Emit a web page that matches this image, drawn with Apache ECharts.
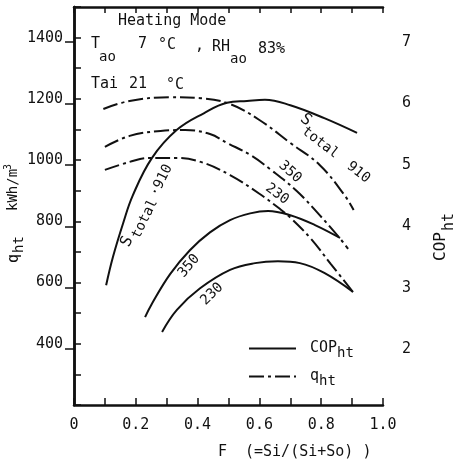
<!DOCTYPE html>
<html>
<head>
<meta charset="utf-8">
<script src="https://cdn.jsdelivr.net/npm/echarts@6/dist/echarts.min.js"></script>
<style>
  html, body { margin: 0; padding: 0; background: #fff; }
  #chart { width: 459px; height: 463px; }
</style>
</head>
<body>
<div id="chart"></div>
<script>
const FONT = '"DejaVu Sans Mono", monospace'
const INK = '#111'

// COP_ht curves (right axis)
const fCop910 = [0.104, 0.126, 0.159, 0.19, 0.252, 0.333, 0.42, 0.495, 0.56, 0.618, 0.70, 0.81, 0.916]
const cop910 = [3.04, 3.50, 4.05, 4.50, 5.11, 5.57, 5.84, 6.01, 6.04, 6.06, 5.97, 5.76, 5.52]
const fCop350 = [0.23, 0.25, 0.311, 0.375, 0.44, 0.505, 0.57, 0.628, 0.70, 0.78, 0.861]
const cop350 = [2.52, 2.72, 3.22, 3.61, 3.90, 4.10, 4.21, 4.25, 4.18, 4.02, 3.81]
const fCop230 = [0.285, 0.333, 0.408, 0.505, 0.586, 0.66, 0.731, 0.81, 0.903]
const cop230 = [2.28, 2.64, 2.99, 3.29, 3.40, 3.43, 3.40, 3.24, 2.93]

// q_ht curves (left axis)
const fQ910 = [0.095, 0.18, 0.31, 0.41, 0.505, 0.60, 0.70, 0.795, 0.875, 0.905]
const q910 = [1167, 1193, 1205, 1202, 1183, 1131, 1056, 984, 886, 837]
const fQ350 = [0.10, 0.18, 0.28, 0.36, 0.44, 0.495, 0.57, 0.635, 0.72, 0.795, 0.86, 0.887]
const q350 = [1043, 1079, 1095, 1098, 1085, 1056, 1017, 970, 900, 820, 745, 710]
const fQ230 = [0.10, 0.18, 0.245, 0.33, 0.41, 0.505, 0.60, 0.667, 0.70, 0.765, 0.83, 0.903]
const q230 = [968, 994, 1007, 1007, 994, 951, 890, 840, 812, 745, 662, 569]

const qLabels = [400, 600, 800, 1000, 1200, 1400]
const copTicks = [2, 3, 4, 5, 6, 7]

const zip = (xs, ys) => xs.map((x, i) => [x, ys[i]])

const chart = echarts.init(document.getElementById('chart'))

const solid = (name, xs, ys) => ({
  name, type: 'line', xAxisIndex: 0, yAxisIndex: 1,
  data: zip(xs, ys), smooth: 0.4, symbol: 'none', silent: true,
  itemStyle: { color: INK },
  lineStyle: { color: INK, width: 2 }
})
const dashDot = (name, xs, ys) => ({
  name, type: 'line', xAxisIndex: 0, yAxisIndex: 0,
  data: zip(xs, ys), smooth: 0.4, symbol: 'none', silent: true,
  itemStyle: { color: INK },
  lineStyle: { color: INK, width: 2, type: [15, 4, 3, 4] }
})

const txt = (text, x, y, size, extra) => ({
  type: 'text', x, y, silent: true,
  style: Object.assign({ text, fill: INK, fontFamily: FONT, fontSize: size, align: 'left', verticalAlign: 'middle' }, extra || {})
})
const rotGroup = (x, y, deg, children) => ({
  type: 'group', x, y, rotation: deg * Math.PI / 180, silent: true, children
})

const axisLine = { show: true, lineStyle: { color: INK, width: 2.5 } }

const option = {
  backgroundColor: '#fff',
  animation: false,
  grid: { left: 74, right: 76, top: 7, bottom: 58 },
  xAxis: [
    {
      type: 'value', position: 'bottom', min: 0, max: 1, interval: 0.1,
      axisLine, splitLine: { show: false },
      axisTick: { inside: true, length: 7, lineStyle: { color: INK, width: 1.5 } },
      axisLabel: {
        color: INK, fontFamily: FONT, fontSize: 15, margin: 13,
        formatter: v => {
          const k = Math.round(v * 10)
          if (k % 2) return ''
          return k === 0 ? '0' : v.toFixed(1)
        }
      }
    },
    {
      type: 'value', position: 'top', min: 0, max: 1, interval: 0.1,
      axisLine, splitLine: { show: false },
      axisTick: { inside: true, length: 6, lineStyle: { color: INK, width: 1.5 } },
      axisLabel: { show: false }
    }
  ],
  yAxis: [
    {
      type: 'value', position: 'left', min: 200, max: 1500, interval: 100,
      axisLine, splitLine: { show: false },
      axisTick: { inside: true, length: 7, lineStyle: { color: INK, width: 1.5 } },
      axisLabel: {
        color: INK, fontFamily: FONT, fontSize: 15, margin: 11,
        formatter: v => qLabels.includes(v) ? String(v) : ''
      }
    },
    {
      type: 'value', position: 'right', min: 1.09, max: 7.57,
      axisLine, splitLine: { show: false },
      axisTick: { inside: true, length: 9, customValues: copTicks, lineStyle: { color: INK, width: 1.5 } },
      axisLabel: { color: INK, fontFamily: FONT, fontSize: 15, margin: 19, customValues: copTicks }
    }
  ],
  legend: {
    orient: 'vertical', left: 243, top: 332,
    itemWidth: 47, itemHeight: 12, itemGap: 5,
    selectedMode: false,
    itemStyle: { opacity: 0 },
    data: ['COP', 'q'],
    formatter: n => n === 'COP' ? '{p|}{a|COP}{b|ht}' : '{p|}{a|q}{b|ht}',
    textStyle: {
      color: INK, fontFamily: FONT,
      rich: {
        p: { width: 9 },
        a: { fontSize: 15, fontFamily: FONT, color: INK, lineHeight: 18 },
        b: { fontSize: 14, fontFamily: FONT, color: INK, lineHeight: 18, padding: [9, 0, 0, 0] }
      }
    }
  },
  series: [
    solid('COP', fCop910, cop910),
    solid('COP', fCop350, cop350),
    solid('COP', fCop230, cop230),
    dashDot('q', fQ910, q910),
    dashDot('q', fQ350, q350),
    dashDot('q', fQ230, q230)
  ],
  graphic: [
    txt('Heating Mode', 118, 21, 15),
    txt('T', 91, 44, 15),
    txt('ao', 99, 57, 14),
    txt('7', 138, 44, 15),
    txt('°C', 158, 45, 15),
    txt(',', 195, 46, 15),
    txt('RH', 212, 47, 15),
    txt('ao', 230, 59, 14),
    txt('83%', 258, 49, 15),
    txt('Tai', 91, 84, 15),
    txt('21', 129, 84, 15),
    txt('°C', 166, 85, 15),
    // axis titles
    rotGroup(14, 263, 90, [
      txt('q', 0, 0, 15),
      txt('ht', 10, 5, 14),
      txt('kWh/m', 52, -1, 14),
      txt('3', 93, -6, 10)
    ]),
    rotGroup(441, 261, 90, [
      txt('COP', 0, 0, 16),
      txt('ht', 30, 8, 15)
    ]),
    txt('F', 218, 452, 15),
    txt('(=Si/(Si+So) )', 245, 452, 15),
    // curve labels
    rotGroup(125, 246, 64, [
      txt('S', 0, 0, 16),
      txt('total', 12, 6, 14),
      txt('·910', 58, 4, 14)
    ]),
    rotGroup(302, 117, -38, [
      txt('S', 0, 0, 16),
      txt('total', 9, 9, 14),
      txt('910', 66, 9, 14)
    ]),
    rotGroup(290, 172, -42, [txt('350', 0, 0, 14, { align: 'center' })]),
    rotGroup(277, 194, -36, [txt('230', 0, 0, 14, { align: 'center' })]),
    rotGroup(189, 266, 50, [txt('350', 0, 0, 14, { align: 'center' })]),
    rotGroup(212, 294, 44, [txt('230', 0, 0, 14, { align: 'center' })])
  ]
}

chart.setOption(option)
window.addEventListener('resize', () => chart.resize())
</script>
</body>
</html>
